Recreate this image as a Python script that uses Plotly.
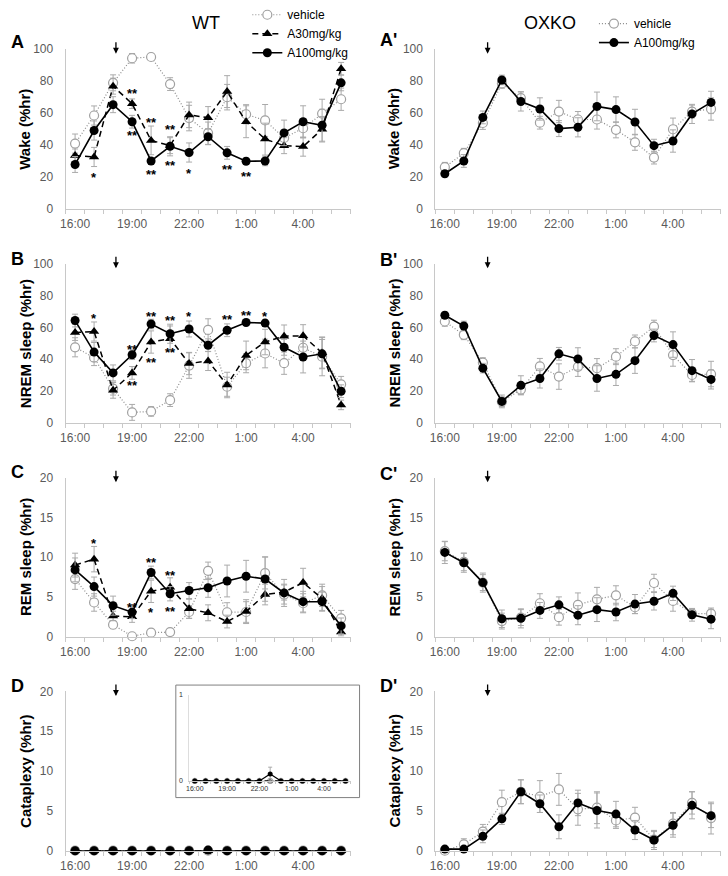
import plotly.graph_objects as go

W, H = 728, 876
FONT = "Arial, Liberation Sans, sans-serif"

hours = ["16:00", "17:00", "18:00", "19:00", "20:00", "21:00", "22:00", "23:00",
         "0:00", "1:00", "2:00", "3:00", "4:00", "5:00", "6:00"]
dose_time_left = 2.15   # arrow (drug administration) position, in category units
dose_time_right = 2.25

# ---------------- WT ----------------
wt_wake_veh = [40.8, 58.4, 78.9, 94.3, 95.1, 78.1, 56.8, 47.3, 69.9, 59.2, 55.3, 44.3, 50.4, 59.6, 68.6]
wt_wake_veh_err = [6, 6, 5, 3, 2, 4, 8, 7, 8, 6, 10, 5, 6, 9, 7]
wt_wake_a30 = [33.4, 32.4, 76.8, 65.8, 42.8, 39.5, 58.8, 57.0, 73.4, 54.5, 43.6, 39.5, 38.9, 49.8, 87.7]
wt_wake_a30_err = [4, 6, 5, 3, 9, 5, 8, 7, 10, 10, 10, 5, 6, 8, 4]
wt_wake_a100 = [27.7, 49.0, 65.2, 54.5, 29.9, 39.1, 35.2, 45.1, 35.0, 29.7, 29.9, 47.5, 54.5, 52.3, 78.9]
wt_wake_a100_err = [5, 6, 5, 4, 2, 6, 6, 5, 4, 2, 3, 8, 10, 10, 5]

wt_nrem_veh = [47.5, 41.0, 21.5, 6.6, 7.2, 14.3, 36.0, 58.4, 22.7, 37.5, 43.6, 37.5, 47.2, 41.6, 24.2]
wt_nrem_veh_err = [6, 5, 4, 5, 3, 4, 8, 7, 6, 6, 9, 7, 7, 12, 5]
wt_nrem_a30 = [56.8, 57.4, 20.5, 31.4, 50.8, 52.9, 37.3, 38.9, 23.8, 42.4, 50.8, 54.5, 54.7, 44.0, 11.3]
wt_nrem_a30_err = [5, 6, 5, 4, 7, 8, 7, 6, 8, 9, 8, 7, 7, 10, 3]
wt_nrem_a100 = [64.3, 44.5, 31.4, 42.8, 62.1, 56.0, 59.0, 48.8, 58.2, 63.1, 62.7, 47.5, 41.4, 43.4, 19.9]
wt_nrem_a100_err = [4, 6, 5, 3, 3, 6, 5, 4, 4, 2, 2, 5, 10, 9, 4]

wt_rem_veh = [7.25, 4.3, 1.5, 0.05, 0.5, 0.57, 3.1, 8.28, 3.07, 3.1, 8.0, 5.3, 4.2, 5.2, 2.3]
wt_rem_veh_err = [1.3, 1.1, 0.5, 0.1, 0.3, 0.2, 0.8, 1.1, 1.2, 1.3, 2.0, 1.2, 1.2, 1.4, 1.0]
wt_rem_a30 = [9.0, 9.75, 2.6, 2.5, 5.7, 6.2, 3.5, 3.0, 1.9, 3.15, 5.3, 5.6, 6.8, 4.8, 0.6]
wt_rem_a30_err = [1.5, 1.6, 0.6, 0.7, 1.4, 1.2, 1.2, 1.0, 0.8, 1.5, 1.3, 1.0, 1.8, 1.5, 0.5]
wt_rem_a100 = [8.4, 6.3, 3.9, 3.07, 8.07, 5.4, 5.8, 6.15, 7.0, 7.6, 7.25, 5.5, 4.4, 4.4, 1.35]
wt_rem_a100_err = [1.5, 1.2, 1.2, 0.8, 0.8, 0.9, 1.0, 1.2, 2.0, 2.0, 2.8, 1.7, 1.3, 1.2, 1.0]

wt_cat_veh = [0] * 15
wt_cat_a30 = [0] * 15
wt_cat_a100 = [0, 0, 0, 0, 0, 0, 0, 0.08, 0, 0, 0, 0, 0, 0, 0]
wt_cat_a100_err = [0, 0, 0, 0, 0, 0, 0, 0.08, 0, 0, 0, 0, 0, 0, 0]

# ---------------- OXKO ----------------
ko_wake_veh = [26.0, 34.8, 53.7, 78.5, 69.3, 53.9, 60.9, 55.9, 55.9, 49.4, 41.6, 32.0, 49.8, 60.9, 62.5]
ko_wake_veh_err = [3, 3, 4, 3, 4, 4, 7, 5, 6, 5, 5, 4, 7, 4, 7]
ko_wake_a100 = [21.9, 29.9, 57.2, 80.7, 67.2, 62.5, 50.2, 51.0, 64.1, 62.1, 54.3, 39.5, 42.4, 59.4, 66.6]
ko_wake_a100_err = [2, 4, 4, 3, 6, 7, 5, 6, 9, 8, 8, 4, 7, 6, 7]

ko_nrem_veh = [63.7, 55.3, 37.9, 13.3, 20.9, 35.5, 29.1, 35.2, 34.4, 41.6, 51.2, 60.5, 42.6, 30.1, 30.7]
ko_nrem_veh_err = [3, 3, 3, 3, 3, 5, 8, 6, 6, 5, 4, 4, 7, 4, 8]
ko_nrem_a100 = [67.6, 60.9, 34.4, 13.5, 23.6, 27.9, 43.4, 40.2, 27.9, 30.5, 39.1, 54.9, 49.2, 32.8, 27.3]
ko_nrem_a100_err = [2, 3, 3, 4, 6, 6, 4, 7, 8, 7, 8, 4, 8, 7, 6]

ko_rem_veh = [10.75, 9.4, 6.8, 1.96, 2.4, 4.2, 2.45, 4.0, 4.7, 5.2, 3.7, 6.75, 4.5, 2.9, 2.9]
ko_rem_veh_err = [1.2, 1.1, 1.0, 1.0, 1.0, 1.2, 1.0, 1.5, 1.5, 1.2, 0.8, 1.1, 1.3, 0.6, 0.7]
ko_rem_a100 = [10.6, 9.3, 6.8, 2.25, 2.3, 3.3, 4.0, 2.7, 3.4, 3.1, 4.1, 4.45, 5.45, 2.75, 2.2]
ko_rem_a100_err = [1.4, 1.2, 1.2, 1.1, 1.2, 1.0, 1.0, 1.2, 1.5, 1.1, 1.2, 1.1, 0.9, 0.8, 1.2]

ko_cat_veh = [0.0, 0.8, 2.4, 6.1, 7.4, 6.8, 7.7, 5.2, 5.4, 3.8, 4.15, 1.4, 3.4, 6.0, 4.1]
ko_cat_veh_err = [0.1, 0.7, 0.9, 1.5, 1.5, 2.0, 2.0, 2.0, 2.0, 1.0, 1.3, 1.0, 1.4, 1.4, 2.0]
ko_cat_a100 = [0.2, 0.2, 1.8, 4.0, 7.4, 5.9, 3.0, 6.0, 5.05, 4.6, 2.6, 1.35, 3.2, 5.7, 4.4]
ko_cat_a100_err = [0.3, 0.3, 0.8, 0.7, 1.5, 1.1, 1.5, 1.6, 2.2, 1.6, 1.2, 1.2, 1.5, 1.7, 1.5]

# significance marks: (panel, category index, y value, text)
sig_marks = [
    ("A", 1, 21.7, "*"), ("A", 3, 73.8, "**"), ("A", 3, 47.7, "**"),
    ("A", 4, 56.0, "**"), ("A", 4, 23.0, "**"), ("A", 5, 51.4, "**"),
    ("A", 5, 28.7, "**"), ("A", 6, 24.2, "*"), ("A", 8, 26.6, "**"),
    ("A", 9, 22.1, "**"),
    ("B", 1, 67.6, "*"), ("B", 3, 48.2, "**"), ("B", 3, 25.6, "**"),
    ("B", 4, 68.6, "**"), ("B", 4, 40.0, "**"), ("B", 5, 66.0, "**"),
    ("B", 5, 46.0, "**"), ("B", 6, 68.6, "*"), ("B", 8, 66.6, "**"),
    ("B", 9, 69.3, "**"), ("B", 10, 68.6, "*"),
    ("C", 1, 12.1, "*"), ("C", 3, 4.1, "**"), ("C", 4, 9.7, "**"),
    ("C", 4, 3.4, "*"), ("C", 5, 8.1, "**"), ("C", 5, 3.5, "**"),
]

# ---------------- layout geometry (pixels) ----------------
col_px = {"L": (61, 348), "R": (433.3, 720.5)}
row_px = {1: (38, 201), 2: (257.3, 420), 3: (476, 638.5), 4: (694.5, 857.3)}

def xdom(c):
    a, b = col_px[c]
    return [a / W, b / W]

def ydom(r):
    t, b = row_px[r]
    return [1 - b / H, 1 - t / H]

x = list(range(len(hours)))

STY = {
    "vehicle": dict(line=dict(color="#8a8a8a", width=1.2, dash="1px,2px"),
                    marker=dict(symbol="circle", size=9, color="white",
                                line=dict(color="#a0a0a0", width=1.2))),
    "A30mg/kg": dict(line=dict(color="black", width=1.5, dash="6px,4px"),
                     marker=dict(symbol="triangle-up", size=9, color="black")),
    "A100mg/kg": dict(line=dict(color="black", width=1.6),
                      marker=dict(symbol="circle", size=9, color="black")),
}

panels = [
    # key, col, row, title, ymax, dtick, series
    ("A", "L", 1, "Wake (%hr)", 100, 20,
     [("vehicle", wt_wake_veh, wt_wake_veh_err), ("A30mg/kg", wt_wake_a30, wt_wake_a30_err),
      ("A100mg/kg", wt_wake_a100, wt_wake_a100_err)]),
    ("A'", "R", 1, "Wake (%hr)", 100, 20,
     [("vehicle", ko_wake_veh, ko_wake_veh_err), ("A100mg/kg", ko_wake_a100, ko_wake_a100_err)]),
    ("B", "L", 2, "NREM sleep (%hr)", 100, 20,
     [("vehicle", wt_nrem_veh, wt_nrem_veh_err), ("A30mg/kg", wt_nrem_a30, wt_nrem_a30_err),
      ("A100mg/kg", wt_nrem_a100, wt_nrem_a100_err)]),
    ("B'", "R", 2, "NREM sleep (%hr)", 100, 20,
     [("vehicle", ko_nrem_veh, ko_nrem_veh_err), ("A100mg/kg", ko_nrem_a100, ko_nrem_a100_err)]),
    ("C", "L", 3, "REM sleep (%hr)", 20, 5,
     [("vehicle", wt_rem_veh, wt_rem_veh_err), ("A30mg/kg", wt_rem_a30, wt_rem_a30_err),
      ("A100mg/kg", wt_rem_a100, wt_rem_a100_err)]),
    ("C'", "R", 3, "REM sleep (%hr)", 20, 5,
     [("vehicle", ko_rem_veh, ko_rem_veh_err), ("A100mg/kg", ko_rem_a100, ko_rem_a100_err)]),
    ("D", "L", 4, "Cataplexy (%hr)", 20, 5,
     [("vehicle", wt_cat_veh, [0] * 15), ("A30mg/kg", wt_cat_a30, [0] * 15),
      ("A100mg/kg", wt_cat_a100, wt_cat_a100_err)]),
    ("D'", "R", 4, "Cataplexy (%hr)", 20, 5,
     [("vehicle", ko_cat_veh, ko_cat_veh_err), ("A100mg/kg", ko_cat_a100, ko_cat_a100_err)]),
]

letter_px = {"A": (4, 31), "B": (4, 252), "C": (4, 470), "D": (4, 689),
             "A'": (376, 29), "B'": (376, 254), "C'": (376, 472), "D'": (376, 689)}
ytitle_xpx = {"L": 20, "R": 392}

fig = go.Figure()
layout = dict(width=W, height=H, margin=dict(l=0, r=0, t=0, b=0),
              paper_bgcolor="white", plot_bgcolor="white",
              font=dict(family=FONT, color="black"))
annotations = []
axis_of = {}

AXC = "#c8c8c8"
TICKC = "#5a5a5a"

for i, (key, col, row, ytitle, ymax, dt, series) in enumerate(panels, start=1):
    xa = "xaxis" if i == 1 else f"xaxis{i}"
    ya = "yaxis" if i == 1 else f"yaxis{i}"
    xr = "x" if i == 1 else f"x{i}"
    yr = "y" if i == 1 else f"y{i}"
    axis_of[key] = (xr, yr)
    layout[xa] = dict(domain=xdom(col), anchor=yr, range=[-0.5, len(hours) - 0.5],
                      showgrid=False, zeroline=False, showline=True, linecolor=AXC, linewidth=1,
                      tickmode="array", tickvals=x[::3], ticktext=hours[::3], ticks="",
                      tickfont=dict(size=12, color=TICKC, family=FONT), ticklabelstandoff=4,
                      minor=dict(tickmode="array", tickvals=[v - 0.5 for v in x] + [len(hours) - 0.5],
                                 ticks="outside", ticklen=4, tickcolor=AXC, showgrid=False))
    layout[ya] = dict(domain=ydom(row), anchor=xr, range=[0, ymax], dtick=dt, tick0=0,
                      showgrid=False, zeroline=False, showline=True, linecolor=AXC, linewidth=1,
                      ticks="", tickfont=dict(size=12, color=TICKC, family=FONT), ticklabelstandoff=9)
    for name, yv, ev in series:
        st = STY[name]
        if key == "A":
            leg = dict(showlegend=True, legend="legend")
        elif key == "A'":
            leg = dict(showlegend=True, legend="legend2")
        else:
            leg = dict(showlegend=False)
        fig.add_trace(go.Scatter(
            x=x, y=yv, name=name, mode="lines+markers", xaxis=xr, yaxis=yr,
            line=st["line"], marker=st["marker"], cliponaxis=False,
            error_y=dict(type="data", array=ev, visible=True, color="#aaaaaa", thickness=1, width=3),
            **leg))
    # panel letter
    lx, ly = letter_px[key]
    annotations.append(dict(text=f"<b>{key}</b>", x=lx / W, y=1 - ly / H, xref="paper", yref="paper",
                            xanchor="left", yanchor="middle", showarrow=False,
                            font=dict(size=18, family=FONT, color="black")))
    # y title
    t, b = row_px[row]
    annotations.append(dict(text=f"<b>{ytitle}</b>", x=ytitle_xpx[col] / W, y=1 - (t + b) / 2 / H,
                            xref="paper", yref="paper", textangle=-90, showarrow=False,
                            xanchor="center", yanchor="middle",
                            font=dict(size=15, family=FONT, color="black")))
    # dose arrow
    annotations.append(dict(x=dose_time_left if col == "L" else dose_time_right, y=0.972,
                            xref=xr, yref=f"{yr} domain", ax=0, ay=-13, axref="pixel", ayref="pixel",
                            text="", showarrow=True, arrowhead=2, arrowsize=0.9, arrowwidth=1.3,
                            arrowcolor="black"))

# significance asterisks
for key, idx, yv, txt in sig_marks:
    xr, yr = axis_of[key]
    annotations.append(dict(text=f"<b>{txt}</b>", x=x[idx], y=yv, xref=xr, yref=yr, showarrow=False,
                            xanchor="center", yanchor="middle",
                            yshift=-3, font=dict(size=13, family=FONT, color="black")))

# column titles
annotations.append(dict(text="WT", x=202 / W, y=1 - 11 / H, xref="paper", yref="paper", showarrow=False,
                        xanchor="center", yanchor="middle",
                        font=dict(size=18, family=FONT, color="black")))
annotations.append(dict(text="OXKO", x=549 / W, y=1 - 11 / H, xref="paper", yref="paper", showarrow=False,
                        xanchor="center", yanchor="middle",
                        font=dict(size=18, family=FONT, color="black")))

# ---------------- inset in D ----------------
ins_x = [185.7 / W, 348.3 / W]
ins_y = [1 - 786 / H, 1 - 698 / H]
layout["xaxis9"] = dict(domain=ins_x, anchor="y9", range=[-0.5, len(hours) - 0.5],
                        showgrid=False, zeroline=False, showline=True, linecolor=AXC, linewidth=1,
                        tickmode="array", tickvals=x[::3], ticktext=hours[::3], ticks="",
                        tickfont=dict(size=7, color="#303030", family=FONT), ticklabelstandoff=1,
                        minor=dict(tickmode="array", tickvals=[v - 0.5 for v in x] + [len(hours) - 0.5],
                                   ticks="outside", ticklen=2, tickcolor=AXC, showgrid=False))
layout["yaxis9"] = dict(domain=ins_y, anchor="x9", range=[0, 1], tickvals=[0, 1],
                        showgrid=False, zeroline=False, showline=True, linecolor="#dddddd", linewidth=1,
                        ticks="", tickfont=dict(size=7, color="#303030", family=FONT), ticklabelstandoff=4)
inset_series = [("vehicle", wt_cat_veh, [0] * 15), ("A30mg/kg", wt_cat_a30, [0] * 15),
                ("A100mg/kg", wt_cat_a100, wt_cat_a100_err)]
for name, yv, ev in inset_series:
    st = STY[name]
    mk = dict(st["marker"])
    mk["size"] = 5
    ln = dict(st["line"])
    ln["width"] = 1.2
    fig.add_trace(go.Scatter(x=x, y=yv, mode="lines+markers", xaxis="x9", yaxis="y9", showlegend=False,
                             line=ln, marker=mk, cliponaxis=False,
                             error_y=dict(type="data", array=ev, visible=True, color="#aaaaaa",
                                          thickness=1, width=2)))

layout["shapes"] = [dict(type="rect", xref="paper", yref="paper",
                         x0=172 / W, x1=357 / W, y0=1 - 803 / H, y1=1 - 688 / H,
                         line=dict(color="#808080", width=1), fillcolor="rgba(0,0,0,0)")]

layout["legend"] = dict(x=244 / W, y=1 + 12 / H, xanchor="left", yanchor="top",
                        bgcolor="rgba(0,0,0,0)", font=dict(size=12, family=FONT, color="black"),
                        tracegroupgap=0, itemwidth=30)
layout["legend2"] = dict(x=593 / W, y=1 + 3 / H, xanchor="left", yanchor="top",
                         bgcolor="rgba(0,0,0,0)", font=dict(size=12, family=FONT, color="black"),
                         tracegroupgap=0, itemwidth=30)
layout["annotations"] = annotations
fig.update_layout(**layout)
fig.write_html("out.html", config={"displayModeBar": False},
               post_script="document.body.style.margin='0';document.body.style.overflow='hidden';")
